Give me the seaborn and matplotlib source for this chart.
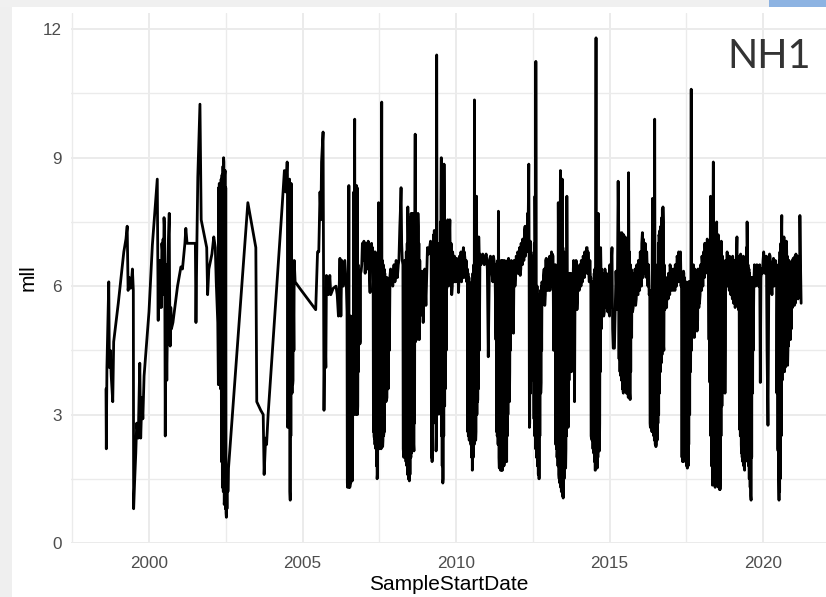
import matplotlib
matplotlib.use("Agg")
import matplotlib.pyplot as plt
import seaborn as sns
import pandas as pd
from matplotlib.patches import Rectangle
from matplotlib.ticker import MultipleLocator

# ---- data (decimal year, mll) ----
years_1998_2005 = [
    1998.60, 1998.61, 1998.63, 1998.69, 1998.71, 1998.74, 1998.77, 1998.82, 1998.85, 1999.00,
    1999.18, 1999.25, 1999.29, 1999.32, 1999.36, 1999.40, 1999.43, 1999.46, 1999.49, 1999.50,
    1999.53, 1999.57, 1999.60, 1999.65, 1999.70, 1999.73, 1999.77, 1999.80, 1999.84, 2000.00,
    2000.11, 2000.27, 2000.30, 2000.33, 2000.36, 2000.38, 2000.42, 2000.46, 2000.49, 2000.53,
    2000.56, 2000.58, 2000.61, 2000.66, 2000.69, 2000.73, 2000.78, 2000.93, 2001.04, 2001.09,
    2001.17, 2001.20, 2001.24, 2001.51, 2001.53, 2001.56, 2001.59, 2001.66, 2001.70, 2001.81,
    2001.88, 2001.91, 2001.95, 2002.05, 2002.11, 2002.16, 2002.19, 2002.24, 2002.26, 2002.31,
    2002.37, 2002.40, 2002.43, 2002.46, 2002.48, 2002.52, 2002.55, 2002.59, 2003.22, 2003.48,
    2003.51, 2003.64, 2003.72, 2003.75, 2003.80, 2003.83, 2003.88, 2004.34, 2004.41, 2004.45,
    2004.50, 2004.52, 2004.54, 2004.57, 2004.60, 2004.63, 2004.65, 2004.68, 2004.73, 2004.76,
    2004.91, 2005.43,
]
mll_1998_2005 = [
    3.6, 2.2, 4.1, 6.1, 4.1, 4.5, 3.9, 3.3, 4.7, 5.6,
    6.8, 7.1, 7.4, 5.9, 6.2, 5.95, 6.1, 6.4, 5.9, 0.8,
    1.4, 2.1, 2.8, 2.45, 4.2, 2.45, 3.4, 2.9, 3.9, 5.4,
    6.96, 8.5, 5.2, 6.1, 6.6, 6.2, 7.0, 7.1, 7.6, 2.5,
    5.1, 3.8, 6.35, 7.7, 4.6, 5.0, 5.15, 6.0, 6.45, 6.4,
    7.0, 7.35, 7.0, 7.0, 5.15, 7.0, 8.55, 10.25, 7.55, 7.15,
    6.9, 5.8, 6.4, 6.75, 7.15, 6.9, 6.1, 5.15, 3.7, 3.8,
    8.4, 1.45, 9.0, 1.0, 8.7, 0.6, 1.75, 1.75, 7.95, 6.9,
    3.3, 3.1, 3.0, 1.6, 2.45, 2.3, 3.0, 7.9, 8.7, 8.2,
    8.9, 2.7, 8.4, 3.3, 1.0, 8.4, 5.3, 3.7, 6.6, 6.1,
    5.95, 5.45,
]

years_2005_2012 = [
    2005.46, 2005.49, 2005.53, 2005.57, 2005.60, 2005.62, 2005.67, 2005.70, 2005.73, 2005.76,
    2005.78, 2005.84, 2005.89, 2005.92, 2006.00, 2006.09, 2006.13, 2006.17, 2006.22, 2006.25,
    2006.28, 2006.33, 2006.38, 2006.43, 2006.47, 2006.51, 2006.54, 2006.58, 2006.62, 2006.65,
    2006.70, 2006.73, 2006.76, 2006.79, 2006.84, 2006.87, 2006.91, 2006.96, 2007.00, 2007.07,
    2007.14, 2007.20, 2007.25, 2007.30, 2007.34, 2007.38, 2007.43, 2007.48, 2007.52, 2007.58,
    2007.61, 2007.65, 2007.70, 2007.74, 2007.79, 2007.85, 2007.90, 2007.96, 2008.01, 2008.07,
    2008.12, 2008.17, 2008.21, 2008.25, 2008.30, 2008.35, 2008.39, 2008.43, 2008.48, 2008.52,
    2008.58, 2008.63, 2008.67, 2008.72, 2008.76, 2008.80, 2008.85, 2008.89, 2008.93, 2008.98,
    2009.02, 2009.07, 2009.11, 2009.17, 2009.22, 2009.26, 2009.30, 2009.35, 2009.37, 2009.40,
    2009.44, 2009.48, 2009.52, 2009.57, 2009.61, 2009.65, 2009.70, 2009.73, 2009.77, 2009.80,
    2009.86, 2009.91, 2009.97, 2010.02, 2010.08, 2010.13, 2010.18, 2010.24, 2010.29, 2010.35,
    2010.40, 2010.45, 2010.49, 2010.53, 2010.57, 2010.60, 2010.64, 2010.67, 2010.71, 2010.74,
    2010.78, 2010.84, 2010.89, 2010.95, 2011.00, 2011.05, 2011.09, 2011.14, 2011.20, 2011.24,
    2011.30, 2011.35, 2011.38, 2011.41, 2011.46, 2011.49, 2011.52, 2011.57, 2011.60, 2011.65,
    2011.71, 2011.74, 2011.78, 2011.83, 2011.87, 2011.92, 2011.98, 2012.03, 2012.09,
]
mll_2005_2012 = [
    6.1, 6.8, 6.8, 8.2, 7.55, 8.9, 9.6, 3.1, 5.15, 4.1,
    6.25, 5.8, 6.25, 5.8, 5.95, 6.0, 5.8, 5.3, 6.65, 5.3,
    6.6, 6.0, 6.6, 5.95, 1.3, 8.35, 1.3, 5.3, 1.45, 5.3,
    9.9, 3.05, 8.35, 3.0, 5.15, 4.65, 6.35, 6.9, 7.05, 7.0,
    7.05, 5.85, 7.0, 6.6, 2.45, 2.25, 1.5, 7.95, 3.7, 10.3,
    2.25, 2.55, 6.1, 3.35, 3.6, 6.25, 6.1, 6.35, 6.1, 6.4,
    6.5, 7.4, 8.3, 6.6, 2.0, 5.45, 2.0, 7.85, 1.45, 2.15,
    7.7, 2.15, 9.55, 4.75, 7.7, 4.75, 5.45, 6.35, 5.15, 6.4,
    5.55, 6.9, 6.75, 7.05, 1.9, 4.9, 7.3, 2.15, 11.4, 3.0,
    6.25, 3.2, 9.0, 1.4, 8.85, 3.6, 5.95, 7.55, 6.9, 7.55,
    5.8, 6.6, 6.1, 6.65, 5.85, 6.6, 6.1, 6.9, 6.65, 6.1,
    2.5, 5.8, 2.3, 1.7, 5.6, 10.35, 2.4, 8.1, 3.35, 7.15,
    6.75, 6.65, 6.6, 6.65, 6.65, 4.35, 6.6, 6.65, 6.1, 6.6,
    4.75, 2.55, 7.75, 1.75, 4.25, 1.7, 6.6, 1.85, 4.9, 1.9,
    6.65, 3.3, 6.0, 6.35, 4.9, 6.0, 6.65, 6.75, 6.25,
]

years_2012_2017 = [
    2012.14, 2012.19, 2012.25, 2012.28, 2012.33, 2012.37, 2012.39, 2012.42, 2012.46, 2012.50,
    2012.53, 2012.57, 2012.60, 2012.63, 2012.66, 2012.71, 2012.74, 2012.77, 2012.81, 2012.85,
    2012.89, 2012.94, 2012.99, 2013.03, 2013.09, 2013.14, 2013.18, 2013.21, 2013.25, 2013.30,
    2013.33, 2013.36, 2013.40, 2013.43, 2013.46, 2013.49, 2013.53, 2013.57, 2013.61, 2013.65,
    2013.69, 2013.72, 2013.76, 2013.80, 2013.83, 2013.86, 2013.91, 2013.94, 2013.99, 2014.05,
    2014.10, 2014.16, 2014.21, 2014.27, 2014.32, 2014.38, 2014.41, 2014.44, 2014.49, 2014.53,
    2014.56, 2014.60, 2014.63, 2014.67, 2014.71, 2014.76, 2014.81, 2014.87, 2014.92, 2014.98,
    2015.03, 2015.08, 2015.12, 2015.16, 2015.21, 2015.25, 2015.28, 2015.33, 2015.36, 2015.40,
    2015.44, 2015.47, 2015.51, 2015.56, 2015.60, 2015.62, 2015.67, 2015.71, 2015.75, 2015.80,
    2015.85, 2015.91, 2015.96, 2016.02, 2016.07, 2016.12, 2016.18, 2016.23, 2016.29, 2016.33,
    2016.36, 2016.40, 2016.43, 2016.47, 2016.51, 2016.54, 2016.57, 2016.62, 2016.65, 2016.69,
    2016.74, 2016.77, 2016.80, 2016.84, 2016.89, 2016.94, 2016.99, 2017.05, 2017.11, 2017.16,
    2017.22, 2017.27, 2017.33,
]
mll_2012_2017 = [
    6.8, 6.8, 7.4, 7.05, 7.7, 8.85, 2.7, 7.05, 3.85, 6.65,
    4.9, 8.1, 11.25, 2.05, 4.1, 1.5, 4.95, 3.75, 5.95, 6.25,
    5.55, 6.65, 6.4, 6.6, 6.35, 6.75, 4.5, 6.4, 2.3, 2.3,
    7.95, 1.5, 8.7, 1.2, 8.5, 1.05, 5.2, 1.75, 8.1, 2.7,
    5.2, 6.2, 4.0, 5.15, 6.6, 3.3, 6.6, 5.45, 6.2, 6.4,
    6.1, 6.6, 6.65, 6.9, 6.35, 6.1, 2.45, 5.8, 2.15, 1.7,
    11.8, 1.75, 7.7, 2.15, 6.9, 5.6, 5.3, 6.2, 5.6, 5.4,
    5.6, 6.9, 4.55, 4.55, 6.35, 5.45, 8.45, 7.25, 4.1, 7.25,
    3.55, 4.65, 7.15, 3.6, 7.05, 8.65, 3.35, 6.35, 5.4, 5.85,
    5.55, 5.8, 6.25, 6.6, 7.25, 6.75, 6.65, 6.4, 5.8, 2.7,
    5.6, 8.05, 2.65, 9.9, 2.25, 5.6, 2.8, 7.15, 4.15, 7.4,
    7.85, 4.5, 5.45, 5.6, 6.0, 6.1, 6.4, 6.25, 6.1, 6.25,
    6.6, 6.75, 6.0,
]

years_2017_2021 = [
    2017.36, 2017.38, 2017.41, 2017.46, 2017.50, 2017.54, 2017.59, 2017.63, 2017.66, 2017.70,
    2017.73, 2017.76, 2017.80, 2017.85, 2017.89, 2017.93, 2017.98, 2018.02, 2018.07, 2018.11,
    2018.15, 2018.20, 2018.24, 2018.27, 2018.29, 2018.33, 2018.35, 2018.38, 2018.41, 2018.46,
    2018.49, 2018.52, 2018.57, 2018.60, 2018.64, 2018.67, 2018.72, 2018.76, 2018.79, 2018.84,
    2018.88, 2018.93, 2018.98, 2019.02, 2019.08, 2019.11, 2019.15, 2019.20, 2019.24, 2019.27,
    2019.30, 2019.35, 2019.39, 2019.43, 2019.48, 2019.52, 2019.57, 2019.61, 2019.65, 2019.70,
    2019.74, 2019.78, 2019.83, 2019.87, 2019.91, 2019.96, 2020.00, 2020.04, 2020.09, 2020.13,
    2020.16, 2020.21, 2020.25, 2020.29, 2020.34, 2020.38, 2020.42, 2020.46, 2020.49, 2020.52,
    2020.57, 2020.61, 2020.65, 2020.68, 2020.73, 2020.76, 2020.80, 2020.85, 2020.89, 2020.93,
    2020.98, 2021.02, 2021.07, 2021.11, 2021.15, 2021.17, 2021.20, 2021.24,
]
mll_2017_2021 = [
    2.0, 1.9, 6.35, 2.1, 5.8, 1.75, 6.1, 4.25, 10.6, 5.3,
    6.5, 4.8, 6.25, 4.95, 6.25, 5.6, 6.1, 6.6, 6.75, 7.0,
    6.6, 7.05, 4.75, 3.75, 8.1, 2.1, 1.35, 8.9, 3.05, 1.35,
    7.5, 1.5, 4.1, 1.25, 7.05, 4.15, 6.4, 3.5, 6.6, 6.4,
    6.65, 6.4, 5.95, 6.6, 5.8, 5.6, 7.15, 5.45, 2.65, 6.75,
    2.1, 3.2, 1.75, 2.55, 7.5, 2.55, 3.35, 1.0, 4.15, 6.1,
    6.25, 6.25, 6.25, 6.2, 3.75, 6.4, 6.6, 6.65, 6.4, 4.5,
    2.75, 6.75, 6.25, 5.8, 6.65, 6.25, 6.1, 5.3, 2.15, 1.0,
    1.9, 7.65, 4.15, 7.15, 4.15, 7.05, 4.15, 6.5, 4.75, 6.5,
    6.65, 5.55, 6.75, 5.8, 6.65, 5.8, 7.65, 5.6,
]

# denser weekly samples read inside the solid black blocks (year, mll)
dense_2000 = [(2000.31, 6.6), (2000.34, 5.5), (2000.40, 5.5), (2000.44, 6.8), (2000.47, 5.8),
              (2000.51, 7.3), (2000.55, 6.5), (2000.60, 5.0), (2000.63, 7.0), (2000.67, 6.0),
              (2000.71, 5.5)]
dense_2002 = [(2002.27, 8.3), (2002.28, 3.7), (2002.29, 8.4), (2002.30, 3.8), (2002.32, 8.3),
              (2002.33, 3.6), (2002.35, 8.5), (2002.36, 1.9), (2002.38, 8.6), (2002.39, 1.3),
              (2002.41, 8.8), (2002.42, 1.2), (2002.44, 8.9), (2002.45, 0.9), (2002.47, 8.6),
              (2002.49, 0.8), (2002.50, 8.3), (2002.51, 0.7), (2002.53, 1.7), (2002.54, 0.8),
              (2002.56, 1.8), (2002.57, 1.2)]
dense_2004 = [(2004.51, 8.6), (2004.53, 2.9), (2004.55, 8.3), (2004.56, 3.0), (2004.58, 8.5),
              (2004.59, 1.2), (2004.61, 8.3), (2004.62, 2.5), (2004.64, 8.0), (2004.66, 3.5),
              (2004.67, 6.5), (2004.69, 3.8), (2004.70, 6.2), (2004.72, 4.5)]
dense_2006 = [(2006.45, 5.4), (2006.46, 1.4), (2006.48, 5.2), (2006.49, 1.35), (2006.50, 5.3),
              (2006.52, 1.3), (2006.53, 5.25), (2006.55, 1.35), (2006.56, 5.3), (2006.57, 1.4),
              (2006.59, 5.2), (2006.60, 1.5), (2006.61, 5.0), (2006.63, 1.6), (2006.64, 5.3),
              (2006.66, 3.1), (2006.67, 8.2), (2006.68, 3.0), (2006.69, 8.3), (2006.71, 3.1),
              (2006.72, 8.3), (2006.74, 3.0), (2006.75, 8.0), (2006.77, 3.1), (2006.78, 8.3),
              (2006.80, 3.2), (2006.81, 6.5), (2006.82, 4.0), (2006.83, 6.0), (2006.85, 4.7),
              (2006.86, 6.2), (2006.88, 4.7), (2006.89, 6.3), (2006.93, 6.5), (2006.95, 7.0),
              (2006.98, 6.6), (2007.02, 6.9), (2007.04, 6.3), (2007.09, 6.9), (2007.11, 6.4),
              (2007.16, 6.9), (2007.18, 6.2), (2007.22, 6.8), (2007.27, 6.5), (2007.28, 6.9)]
dense_2007 = [(2007.31, 2.6), (2007.32, 6.8), (2007.33, 2.5), (2007.35, 6.7), (2007.36, 2.3),
              (2007.37, 6.8), (2007.39, 2.2), (2007.40, 6.6), (2007.41, 1.8), (2007.42, 6.5),
              (2007.44, 1.6), (2007.45, 6.7), (2007.46, 2.3), (2007.47, 6.6), (2007.49, 2.3),
              (2007.50, 6.8), (2007.51, 2.2), (2007.53, 6.7), (2007.54, 2.3), (2007.55, 6.6),
              (2007.56, 2.2), (2007.57, 6.5), (2007.59, 2.3), (2007.60, 6.6), (2007.62, 2.4),
              (2007.63, 6.5), (2007.64, 2.5), (2007.66, 6.4), (2007.67, 2.6), (2007.68, 6.3),
              (2007.69, 3.4), (2007.71, 6.2), (2007.72, 3.3), (2007.73, 6.1), (2007.75, 3.4),
              (2007.76, 6.2), (2007.77, 3.6), (2007.78, 6.0), (2007.80, 3.9), (2007.81, 6.1),
              (2007.83, 4.5), (2007.87, 6.4), (2007.92, 6.3), (2007.94, 6.0), (2007.98, 6.5),
              (2008.03, 6.2), (2008.05, 6.6), (2008.09, 6.2), (2008.14, 6.6), (2008.19, 7.8),
              (2008.23, 7.0)]
dense_2008 = [(2008.27, 6.5), (2008.28, 2.2), (2008.31, 6.4), (2008.32, 2.1), (2008.33, 6.6),
              (2008.34, 2.0), (2008.36, 6.5), (2008.37, 1.9), (2008.38, 6.8), (2008.40, 1.8),
              (2008.41, 7.0), (2008.42, 1.6), (2008.44, 7.2), (2008.45, 1.5), (2008.46, 7.4),
              (2008.47, 1.5), (2008.49, 7.5), (2008.50, 1.6), (2008.51, 7.6), (2008.53, 2.0),
              (2008.54, 7.7), (2008.55, 2.1), (2008.56, 7.6), (2008.57, 2.2), (2008.59, 7.6),
              (2008.60, 2.2), (2008.61, 7.7), (2008.62, 2.3), (2008.64, 7.5), (2008.65, 2.8),
              (2008.66, 7.7), (2008.68, 4.7), (2008.69, 7.7), (2008.70, 4.8), (2008.71, 7.6),
              (2008.73, 4.9), (2008.74, 7.5), (2008.75, 4.8), (2008.77, 7.4), (2008.78, 4.9),
              (2008.79, 7.0), (2008.81, 5.2), (2008.82, 6.6), (2008.83, 5.3)]
dense_2009 = [(2009.19, 7.0), (2009.20, 2.0), (2009.21, 6.9), (2009.23, 2.2), (2009.24, 7.0),
              (2009.25, 3.0), (2009.27, 7.2), (2009.28, 3.0), (2009.29, 7.3), (2009.31, 3.1),
              (2009.32, 7.2), (2009.33, 2.8), (2009.34, 7.0), (2009.36, 2.5), (2009.38, 7.2),
              (2009.39, 3.0), (2009.41, 7.0), (2009.42, 3.1), (2009.43, 6.9), (2009.45, 3.2),
              (2009.46, 6.6), (2009.47, 3.3), (2009.49, 7.5), (2009.50, 3.0), (2009.51, 8.0),
              (2009.53, 2.5), (2009.54, 7.5), (2009.55, 1.8), (2009.56, 7.0), (2009.58, 1.5),
              (2009.59, 7.2), (2009.60, 2.5), (2009.62, 7.5), (2009.63, 3.2), (2009.64, 7.0),
              (2009.66, 3.8), (2009.67, 7.2), (2009.68, 4.5), (2009.69, 7.5), (2009.71, 7.0),
              (2009.72, 6.0), (2009.75, 7.2), (2009.76, 6.2), (2009.79, 7.3), (2009.82, 6.0),
              (2009.84, 7.0), (2009.88, 6.0), (2009.89, 6.8), (2009.93, 6.1), (2009.95, 6.7),
              (2009.99, 6.2), (2010.00, 6.6), (2010.04, 6.1), (2010.06, 6.6), (2010.10, 6.2),
              (2010.11, 6.7), (2010.15, 6.2), (2010.16, 6.8), (2010.20, 6.3), (2010.22, 6.7),
              (2010.26, 6.2), (2010.27, 6.8), (2010.31, 6.3), (2010.33, 6.6)]
dense_2010 = [(2010.37, 6.4), (2010.38, 2.6), (2010.39, 6.3), (2010.41, 2.5), (2010.42, 6.2),
              (2010.43, 2.4), (2010.44, 6.0), (2010.46, 2.4), (2010.47, 5.9), (2010.48, 2.3),
              (2010.50, 6.0), (2010.51, 2.0), (2010.52, 6.1), (2010.54, 1.8), (2010.55, 6.3),
              (2010.56, 2.0), (2010.58, 6.5), (2010.59, 2.3), (2010.61, 6.6), (2010.62, 2.4),
              (2010.63, 6.6), (2010.65, 2.6), (2010.66, 6.7), (2010.68, 3.0), (2010.69, 6.8),
              (2010.70, 3.3), (2010.72, 6.9), (2010.73, 3.6), (2010.75, 6.8), (2010.76, 4.5),
              (2010.81, 6.5), (2010.87, 6.75), (2010.92, 6.5), (2010.98, 6.75), (2011.02, 6.4),
              (2011.12, 6.7), (2011.17, 6.3), (2011.22, 6.7), (2011.27, 6.4)]
dense_2011 = [(2011.31, 6.5), (2011.32, 2.6), (2011.33, 6.4), (2011.34, 2.5), (2011.36, 6.6),
              (2011.37, 2.3), (2011.39, 6.5), (2011.40, 2.0), (2011.42, 6.5), (2011.43, 1.8),
              (2011.44, 6.4), (2011.45, 1.7), (2011.47, 6.6), (2011.48, 1.7), (2011.50, 6.5),
              (2011.51, 1.7), (2011.53, 6.4), (2011.54, 1.8), (2011.55, 6.5), (2011.56, 1.8),
              (2011.58, 6.6), (2011.59, 1.9), (2011.61, 6.5), (2011.62, 1.9), (2011.63, 6.4),
              (2011.64, 2.0), (2011.66, 6.5), (2011.67, 2.5), (2011.68, 6.6), (2011.69, 3.0),
              (2011.70, 6.5), (2011.72, 3.4), (2011.73, 6.4), (2011.75, 4.0), (2011.76, 6.3),
              (2011.77, 4.5), (2011.80, 6.6), (2011.85, 6.1), (2011.89, 6.6), (2011.94, 6.2),
              (2011.96, 6.7), (2012.00, 6.3), (2012.01, 6.8), (2012.05, 6.3), (2012.07, 6.9),
              (2012.11, 6.4), (2012.12, 7.0), (2012.16, 6.5), (2012.17, 7.1), (2012.21, 6.6),
              (2012.23, 7.3), (2012.26, 6.7), (2012.30, 7.3), (2012.31, 6.8), (2012.35, 7.5)]
dense_2012 = [(2012.38, 7.0), (2012.40, 2.8), (2012.41, 7.0), (2012.43, 3.5), (2012.44, 6.8),
              (2012.45, 3.8), (2012.47, 6.6), (2012.48, 3.9), (2012.49, 6.7), (2012.51, 4.5),
              (2012.52, 6.6), (2012.54, 2.9), (2012.55, 7.0), (2012.56, 2.5), (2012.58, 6.8),
              (2012.59, 2.2), (2012.61, 6.5), (2012.62, 2.0), (2012.64, 6.0), (2012.65, 1.8),
              (2012.67, 5.8), (2012.68, 1.6), (2012.69, 5.6), (2012.70, 1.5), (2012.72, 5.8),
              (2012.73, 2.5), (2012.75, 5.9), (2012.76, 3.5), (2012.78, 6.0), (2012.79, 4.5),
              (2012.80, 6.1), (2012.83, 5.6), (2012.87, 6.4), (2012.91, 5.8), (2012.92, 6.6),
              (2012.96, 5.9), (2012.97, 6.5), (2013.01, 5.9), (2013.05, 6.7), (2013.06, 5.9),
              (2013.11, 6.8), (2013.12, 6.0), (2013.16, 6.7), (2013.19, 6.2), (2013.23, 6.5)]
dense_2013 = [(2013.24, 6.5), (2013.26, 6.4), (2013.27, 2.2), (2013.28, 6.3), (2013.29, 2.0),
              (2013.31, 6.4), (2013.32, 1.8), (2013.34, 6.6), (2013.35, 1.6), (2013.37, 6.7),
              (2013.38, 1.4), (2013.39, 6.8), (2013.41, 1.3), (2013.42, 6.9), (2013.44, 1.2),
              (2013.45, 7.0), (2013.47, 1.1), (2013.48, 6.9), (2013.50, 1.2), (2013.51, 6.8),
              (2013.52, 1.5), (2013.54, 6.6), (2013.55, 1.8), (2013.56, 6.5), (2013.58, 2.2),
              (2013.59, 6.4), (2013.60, 2.5), (2013.62, 6.3), (2013.63, 2.8), (2013.64, 6.3),
              (2013.66, 3.2), (2013.67, 6.2), (2013.68, 3.8), (2013.70, 6.3), (2013.71, 4.4),
              (2013.74, 6.3), (2013.78, 5.8), (2013.82, 6.4), (2013.85, 5.5), (2013.88, 6.5),
              (2013.90, 5.6), (2013.93, 6.5), (2013.96, 5.8), (2013.97, 6.4), (2014.01, 5.9),
              (2014.03, 6.5), (2014.07, 6.0), (2014.08, 6.6), (2014.12, 6.1), (2014.14, 6.7),
              (2014.18, 6.2), (2014.19, 6.8), (2014.23, 6.3), (2014.25, 6.9), (2014.29, 6.3),
              (2014.30, 6.8), (2014.34, 6.1), (2014.36, 6.6)]
dense_2014 = [(2014.39, 6.2), (2014.40, 2.5), (2014.42, 6.1), (2014.43, 2.4), (2014.45, 6.0),
              (2014.46, 2.2), (2014.47, 6.1), (2014.48, 2.1), (2014.50, 6.3), (2014.51, 1.9),
              (2014.52, 6.4), (2014.54, 1.7), (2014.55, 6.6), (2014.57, 1.8), (2014.58, 6.8),
              (2014.59, 1.9), (2014.61, 6.9), (2014.62, 2.0), (2014.64, 6.9), (2014.65, 2.3),
              (2014.66, 6.8), (2014.68, 2.8), (2014.69, 6.7), (2014.70, 4.0), (2014.72, 6.5),
              (2014.73, 5.0), (2014.74, 6.4), (2014.78, 5.5), (2014.79, 6.3), (2014.83, 5.4),
              (2014.85, 6.4), (2014.89, 5.5), (2014.90, 6.3), (2014.94, 5.4), (2014.96, 6.2),
              (2015.00, 5.3), (2015.01, 6.5), (2015.05, 5.5), (2015.06, 6.6), (2015.10, 5.0)]
dense_2015 = [(2015.30, 7.2), (2015.31, 4.3), (2015.32, 7.0), (2015.34, 4.0), (2015.35, 7.2),
              (2015.37, 3.9), (2015.38, 7.1), (2015.39, 3.8), (2015.41, 7.0), (2015.42, 3.6),
              (2015.43, 7.1), (2015.45, 3.5), (2015.46, 7.2), (2015.48, 3.6), (2015.49, 7.0),
              (2015.50, 3.7), (2015.52, 6.8), (2015.53, 3.6), (2015.54, 7.0), (2015.55, 3.5),
              (2015.57, 6.9), (2015.58, 3.5), (2015.59, 7.0), (2015.61, 3.4), (2015.63, 7.0),
              (2015.64, 3.4), (2015.65, 6.8), (2015.66, 3.5), (2015.68, 6.5), (2015.69, 4.0),
              (2015.70, 6.4), (2015.72, 4.8), (2015.73, 6.2), (2015.77, 5.5), (2015.78, 6.3),
              (2015.82, 5.6), (2015.83, 6.4), (2015.87, 5.7), (2015.89, 6.5), (2015.93, 5.8),
              (2015.94, 6.6), (2015.98, 5.9), (2016.00, 6.8), (2016.04, 6.0), (2016.05, 7.0),
              (2016.09, 6.2), (2016.10, 7.1), (2016.14, 6.3), (2016.16, 7.0), (2016.20, 6.2),
              (2016.21, 6.8), (2016.25, 6.0), (2016.27, 6.5)]
dense_2016 = [(2016.31, 5.9), (2016.32, 2.8), (2016.34, 5.8), (2016.35, 2.7), (2016.37, 5.7),
              (2016.38, 2.6), (2016.39, 6.5), (2016.41, 2.6), (2016.42, 6.0), (2016.44, 2.5),
              (2016.45, 5.8), (2016.46, 2.4), (2016.48, 5.9), (2016.49, 2.3), (2016.50, 5.7),
              (2016.52, 2.3), (2016.53, 5.8), (2016.55, 2.4), (2016.56, 6.5), (2016.58, 2.8),
              (2016.59, 7.0), (2016.60, 3.0), (2016.61, 7.2), (2016.63, 3.5), (2016.64, 7.3),
              (2016.66, 4.0), (2016.67, 7.4), (2016.68, 4.2), (2016.70, 7.6), (2016.71, 4.4),
              (2016.72, 7.8), (2016.73, 4.5), (2016.75, 7.5), (2016.76, 4.6), (2016.78, 6.5),
              (2016.82, 5.9), (2016.86, 5.5), (2016.87, 6.2), (2016.91, 5.7), (2016.92, 6.3),
              (2016.96, 5.8), (2016.97, 6.5), (2017.01, 5.9), (2017.03, 6.4), (2017.07, 5.9),
              (2017.09, 6.4), (2017.13, 5.9), (2017.14, 6.5), (2017.18, 6.0), (2017.20, 6.7),
              (2017.24, 6.1), (2017.25, 6.8), (2017.29, 6.2), (2017.31, 6.8)]
dense_2017 = [(2017.34, 6.3), (2017.35, 6.2), (2017.37, 6.1), (2017.39, 6.2), (2017.40, 1.9),
              (2017.42, 6.3), (2017.43, 2.0), (2017.44, 6.2), (2017.45, 2.0), (2017.47, 6.0),
              (2017.48, 1.9), (2017.49, 6.1), (2017.51, 1.8), (2017.52, 6.0), (2017.53, 1.75),
              (2017.55, 6.0), (2017.56, 1.8), (2017.57, 6.1), (2017.58, 2.3), (2017.60, 6.0),
              (2017.61, 3.0), (2017.62, 6.1), (2017.64, 4.0), (2017.65, 6.2), (2017.67, 4.5),
              (2017.68, 6.3), (2017.69, 4.8), (2017.71, 6.4), (2017.72, 5.0), (2017.74, 6.3),
              (2017.75, 5.1), (2017.78, 6.4), (2017.81, 5.0), (2017.83, 6.3), (2017.87, 5.2),
              (2017.88, 6.4), (2017.91, 5.5), (2017.92, 6.4), (2017.95, 5.8), (2017.97, 6.5),
              (2018.00, 5.9), (2018.01, 6.7), (2018.04, 6.0), (2018.06, 6.8), (2018.09, 6.2),
              (2018.10, 7.0), (2018.13, 6.3), (2018.14, 7.0), (2018.17, 6.4), (2018.18, 7.1),
              (2018.22, 6.5)]
dense_2018 = [(2018.25, 6.8), (2018.26, 4.0), (2018.28, 6.9), (2018.30, 2.5), (2018.31, 7.0),
              (2018.32, 1.8), (2018.34, 7.1), (2018.36, 1.4), (2018.37, 7.2), (2018.39, 1.4),
              (2018.40, 7.3), (2018.42, 1.35), (2018.43, 7.0), (2018.44, 1.3), (2018.45, 7.2),
              (2018.47, 1.4), (2018.48, 7.3), (2018.50, 1.5), (2018.51, 7.1), (2018.53, 1.4),
              (2018.54, 7.2), (2018.55, 1.3), (2018.56, 7.0), (2018.58, 1.25), (2018.59, 6.9),
              (2018.61, 1.6), (2018.62, 7.0), (2018.63, 2.5), (2018.65, 6.8), (2018.66, 3.2),
              (2018.68, 6.7), (2018.69, 3.6), (2018.70, 6.6), (2018.71, 3.8), (2018.73, 6.5),
              (2018.74, 4.2), (2018.75, 6.5), (2018.77, 4.6), (2018.78, 6.6), (2018.81, 6.0),
              (2018.83, 6.8), (2018.86, 6.0), (2018.87, 6.7), (2018.90, 5.9), (2018.91, 6.7),
              (2018.95, 5.8), (2018.96, 6.6), (2019.00, 5.7), (2019.01, 6.7), (2019.04, 5.6),
              (2019.06, 6.6), (2019.09, 5.5), (2019.13, 6.6), (2019.17, 5.6), (2019.18, 6.7)]
dense_2019 = [(2019.22, 6.6), (2019.23, 2.8), (2019.25, 6.7), (2019.26, 2.5), (2019.28, 6.6),
              (2019.29, 2.3), (2019.31, 6.5), (2019.32, 2.0), (2019.33, 6.6), (2019.34, 1.9),
              (2019.36, 6.7), (2019.37, 1.8), (2019.38, 6.6), (2019.40, 1.7), (2019.41, 6.5),
              (2019.42, 1.9), (2019.44, 6.6), (2019.45, 2.1), (2019.46, 6.9), (2019.47, 2.2),
              (2019.49, 6.7), (2019.50, 2.0), (2019.51, 6.5), (2019.53, 1.8), (2019.54, 6.4),
              (2019.55, 1.5), (2019.56, 6.3), (2019.58, 1.3), (2019.59, 6.2), (2019.60, 1.1),
              (2019.62, 6.2), (2019.63, 2.0), (2019.64, 6.1), (2019.66, 3.5), (2019.67, 6.2),
              (2019.68, 4.5), (2019.72, 6.5), (2019.76, 6.0), (2019.80, 6.5), (2019.85, 6.0),
              (2019.89, 6.5), (2019.93, 6.2), (2019.98, 6.3), (2020.02, 6.8), (2020.06, 6.3),
              (2020.11, 6.7), (2020.19, 6.4), (2020.23, 6.7), (2020.27, 6.2), (2020.31, 6.5),
              (2020.36, 6.0), (2020.40, 6.6)]
dense_2020 = [(2020.44, 6.4), (2020.45, 3.5), (2020.47, 6.3), (2020.48, 2.2), (2020.50, 6.5),
              (2020.51, 1.5), (2020.53, 6.6), (2020.54, 1.2), (2020.55, 6.8), (2020.56, 1.5),
              (2020.58, 7.0), (2020.59, 2.5), (2020.60, 7.2), (2020.62, 3.8), (2020.63, 7.0),
              (2020.64, 4.0), (2020.66, 7.1), (2020.67, 4.1), (2020.69, 6.9), (2020.70, 4.0),
              (2020.71, 7.0), (2020.72, 4.1), (2020.74, 6.9), (2020.75, 4.2), (2020.77, 6.8),
              (2020.78, 4.3), (2020.79, 6.7), (2020.81, 4.5), (2020.82, 6.6), (2020.83, 4.6),
              (2020.84, 6.6), (2020.86, 4.8), (2020.87, 6.5), (2020.88, 5.0), (2020.90, 6.4),
              (2020.92, 5.0), (2020.95, 6.6), (2020.96, 5.5), (2021.00, 6.6), (2021.01, 5.6),
              (2021.04, 6.7), (2021.05, 5.6), (2021.09, 6.6), (2021.10, 5.8), (2021.13, 6.7),
              (2021.14, 5.7), (2021.19, 6.0), (2021.22, 6.5)]

x_major = [2000, 2005, 2010, 2015, 2020]
y_major = [0, 3, 6, 9, 12]
station_label = "NH1"

base = pd.DataFrame({
    "SampleStartDate": years_1998_2005 + years_2005_2012 + years_2012_2017 + years_2017_2021,
    "mll": mll_1998_2005 + mll_2005_2012 + mll_2012_2017 + mll_2017_2021,
})
dense_blocks = (dense_2000 + dense_2002 + dense_2004 + dense_2006 + dense_2007 + dense_2008 +
                dense_2009 + dense_2010 + dense_2011 + dense_2012 + dense_2013 + dense_2014 +
                dense_2015 + dense_2016 + dense_2017 + dense_2018 + dense_2019 + dense_2020)
dense = pd.DataFrame(dense_blocks, columns=["SampleStartDate", "mll"])
df = pd.concat([base, dense], ignore_index=True).sort_values(
    "SampleStartDate", kind="mergesort").reset_index(drop=True)

sns.set_theme(style="white")
plt.rcParams["font.family"] = ["Liberation Sans", "DejaVu Sans"]

W, H = 826, 597
fig = plt.figure(figsize=(W / 100, H / 100), dpi=100)
fig.patch.set_facecolor("white")

# screenshot frame
fig.patches.append(Rectangle((0, 0), 12 / W, 1, transform=fig.transFigure,
                             facecolor="#efefef", edgecolor="none", zorder=0))
fig.patches.append(Rectangle((0, 1 - 7 / H), 1, 7 / H, transform=fig.transFigure,
                             facecolor="#f0f0f0", edgecolor="none", zorder=0))
fig.patches.append(Rectangle((769 / W, 1 - 7 / H), 57 / W, 7 / H, transform=fig.transFigure,
                             facecolor="#8db3e2", edgecolor="none", zorder=0))

ax = fig.add_axes([71 / W, (H - 543) / H, 1 - 71 / W, (543 - 13) / H])
ax.set_facecolor("white")

sns.lineplot(data=df, x="SampleStartDate", y="mll", ax=ax, color="black",
             linewidth=2.0, estimator=None, sort=False)

ax.set_xlim(1997.46, 2022.05)
ax.set_ylim(0, 12.38)
ax.set_xticks(x_major)
ax.set_yticks(y_major)
ax.xaxis.set_minor_locator(MultipleLocator(2.5))
ax.yaxis.set_minor_locator(MultipleLocator(1.5))
ax.grid(which="major", color="#ebebeb", linewidth=1.4)
ax.grid(which="minor", color="#ebebeb", linewidth=1.0)
ax.set_axisbelow(True)
for s in ax.spines.values():
    s.set_visible(False)
ax.tick_params(which="both", length=0)
ax.tick_params(axis="x", labelsize=12.3, labelcolor="#4d4d4d", pad=9)
ax.tick_params(axis="y", labelsize=12.3, labelcolor="#4d4d4d", pad=6.5)
ax.set_xlabel("SampleStartDate", fontsize=15, color="black", labelpad=3)
ax.set_ylabel("mll", fontsize=15, color="black", labelpad=4)

fig.text(727 / W, 1 - 68 / H, station_label, fontsize=28.5, color="#333333",
         family=["Lato", "DejaVu Sans"], ha="left", va="baseline")

fig.savefig("out.png", dpi=100)
